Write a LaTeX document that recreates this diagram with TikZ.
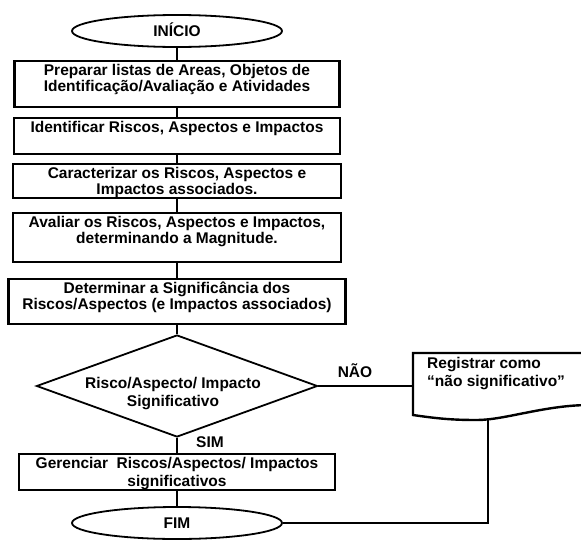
\documentclass[tikz,border=0pt]{standalone}
\usepackage{fontspec}
\setmainfont{Liberation Sans}
\usetikzlibrary{shapes.geometric}
\newcommand\firstl{\rule{0pt}{15pt}}
\begin{document}
\begin{tikzpicture}[x=1pt,y=-1pt,
  box/.style={draw, line width=2.4pt, inner sep=0pt},
  txt/.style={inner sep=0pt, align=center, anchor=north, font=\bfseries\fontsize{15.5}{16.5}\selectfont},
  txtb/.style={inner sep=0pt, align=center, anchor=north, font=\bfseries\fontsize{15.5}{18}\selectfont},
  lbl/.style={inner sep=0pt, font=\bfseries\fontsize{15.5}{16.5}\selectfont, text height=11.1pt, text depth=0pt},
  term/.style={ellipse, draw, line width=1.8pt, inner sep=0pt, minimum width=210pt, minimum height=32pt,
    font=\bfseries\fontsize{15.5}{16.5}\selectfont, text height=11.1pt, text depth=0pt},
  conn/.style={line width=1.8pt},
]
\useasboundingbox (0,0) rectangle (581,541);

% terminals
\node[term] (ini) at (177,31) {INÍCIO};
\node[term] (fim) at (177,523) {FIM};

% process boxes
\node[box, minimum width=325pt, minimum height=46pt] (b1) at (177,84) {};
\node[txt] (t1) at (177,60) {\firstl Preparar listas de Areas, Objetos de\\Identificação/Avaliação e Atividades};

\node[box, minimum width=326pt, minimum height=36pt] (b2) at (177,136) {};
\node[txt] (t2) at (177,117) {\firstl Identificar Riscos, Aspectos e Impactos};

\node[box, minimum width=328pt, minimum height=34pt] (b3) at (177,181) {};
\node[txt] (t3) at (177,163) {\firstl Caracterizar os Riscos, Aspectos e\\Impactos associados.};

\node[box, minimum width=328pt, minimum height=49pt] (b4) at (177,237.5) {};
\node[txt] (t4) at (177,212) {\firstl Avaliar os Riscos, Aspectos e Impactos,\\determinando a Magnitude.};

\node[box, minimum width=337pt, minimum height=45pt] (b5) at (177,301.5) {};
\node[txt] (t5) at (177,278) {\firstl Determinar a Significância dos\\Riscos/Aspectos (e Impactos associados)};

% decision
\node[diamond, draw, conn, minimum width=281pt, minimum height=102pt, inner sep=0pt] (d) at (177,386) {};
\node[txtb] (dt) at (173,373.5) {\firstl Risco/Aspecto/ Impacto\\Significativo};

% manage box
\node[box, minimum width=316pt, minimum height=36pt] (g) at (177,472) {};
\node[txtb] (gt) at (177,453) {\firstl Gerenciar\ \ Riscos/Aspectos/ Impactos\\significativos};

% document shape
\draw[box] (590,405) -- (590,353) -- (413,353) -- (413,415)
  .. controls (440,419) and (455,420) .. (477,420)
  .. controls (505,420) and (545,405) .. (590,405);
\coordinate (docl) at (413,386);
\coordinate (docb) at (488,419.5);
\node[inner sep=0pt, anchor=north west, align=left, font=\bfseries\fontsize{15.5}{18}\selectfont] (rt) at (427,353)
  {\firstl Registrar como\\“não significativo”};

% labels
\node[lbl] (nao) at (355,372) {NÃO};
\node[lbl] (sim) at (210,442) {SIM};

% connectors
\draw[conn] (ini.south) -- (b1.north);
\draw[conn] (b1.south) -- (b2.north);
\draw[conn] (b2.south) -- (b3.north);
\draw[conn] (b3.south) -- (b4.north);
\draw[conn] (b4.south) -- (b5.north);
\draw[conn] (b5.south) -- (d.north);
\draw[conn] (d.south) -- (g.north);
\draw[conn] (g.south) -- (fim.north);
\draw[conn] (d.east) -- (docl);
\draw[conn] (docb) -- (docb |- fim.east) -- (fim.east);
\end{tikzpicture}
\end{document}
